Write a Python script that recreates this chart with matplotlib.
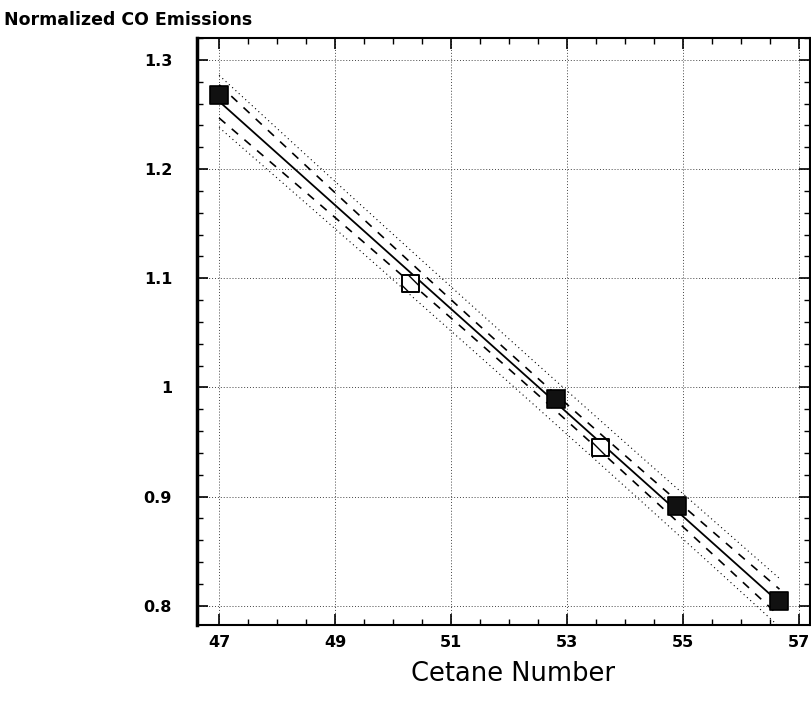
"""
Normalized CO emissions vs cetane number with a linear fit,
95% confidence band (dashed) and prediction band (dotted).
"""

import matplotlib
matplotlib.use("Agg")
import matplotlib.pyplot as plt
import numpy as np
from matplotlib.ticker import MultipleLocator

cetane = [47.0, 50.31, 52.81, 53.59, 54.9, 56.67]
co_norm = [1.268, 1.095, 0.989, 0.945, 0.891, 0.804]
filled = [True, False, True, False, True, True]

x_ticks = [47, 49, 51, 53, 55, 57]
y_ticks = [0.8, 0.9, 1.0, 1.1, 1.2, 1.3]
y_tick_labels = ["0.8", "0.9", "1", "1.1", "1.2", "1.3"]

T_975_DF4 = 2.776  # student t, 95 % two-sided, n - 2 = 4

plt.rcParams["font.family"] = ["DejaVu Sans"]


def fit_bands(x, y, xs):
    x = np.asarray(x)
    y = np.asarray(y)
    n = len(x)
    slope, icpt = np.polyfit(x, y, 1)
    resid = y - (slope * x + icpt)
    s = np.sqrt(np.sum(resid ** 2) / (n - 2))
    sxx = np.sum((x - x.mean()) ** 2)
    yfit = slope * xs + icpt
    lev = 1.0 / n + (xs - x.mean()) ** 2 / sxx
    ci = T_975_DF4 * s * np.sqrt(lev)
    pi = T_975_DF4 * s * np.sqrt(1.0 + lev)
    return yfit, ci, pi


fig = plt.figure(figsize=(8.11, 7.06), dpi=100)
ax = fig.add_axes([0.243, 0.115, 0.756, 0.831])

xs = np.linspace(min(cetane), max(cetane), 200)
yfit, ci, pi = fit_bands(cetane, co_norm, xs)

ax.plot(xs, yfit, color="black", lw=1.3, zorder=3)
ax.plot(xs, yfit + ci, color="black", lw=1.2, ls=(0, (5, 5)), zorder=3)
ax.plot(xs, yfit - ci, color="black", lw=1.2, ls=(0, (5, 5)), zorder=3)
ax.plot(xs, yfit + pi, color="black", lw=0.8, ls=(0, (1, 3)), zorder=3)
ax.plot(xs, yfit - pi, color="black", lw=0.8, ls=(0, (1, 3)), zorder=3)

for xv, yv, full in zip(cetane, co_norm, filled):
    if full:
        ax.scatter(xv, yv, marker="s", s=150, facecolor="#111111",
                   edgecolor="black", linewidth=1.2, zorder=5)
    else:
        ax.scatter(xv, yv, marker="s", s=150, facecolor="white",
                   edgecolor="black", linewidth=1.4, hatch="\\\\", zorder=5)

ax.set_xlim(46.62, 57.2)
ax.set_ylim(0.7826, 1.32)
ax.set_xticks(x_ticks)
ax.set_xticklabels([str(t) for t in x_ticks])
ax.set_yticks(y_ticks)
ax.set_yticklabels(y_tick_labels)
ax.xaxis.set_minor_locator(MultipleLocator(0.5))
ax.yaxis.set_minor_locator(MultipleLocator(0.02))

ax.tick_params(which="both", direction="in", top=True, right=True,
               color="black")
ax.tick_params(which="major", length=8, width=1.2, labelsize=11.5)
ax.tick_params(axis="y", which="major", pad=18)
ax.tick_params(axis="x", which="major", pad=7)
ax.tick_params(which="minor", length=4, width=1.0)
for lbl in ax.get_xticklabels() + ax.get_yticklabels():
    lbl.set_fontweight("bold")

ax.grid(True, which="major", color="#444444", lw=0.7, ls=(0, (1, 2)))
for side in ax.spines.values():
    side.set_linewidth(1.5)
ax.spines["left"].set_linewidth(2.5)

ax.set_xlabel("Cetane Number", fontsize=18.5)
ax.xaxis.set_label_coords(0.515, -0.062, transform=ax.transAxes)
ax.xaxis.label.set_va("top")
fig.text(0.005, 0.972, "Normalized CO Emissions", fontsize=12.5,
         fontweight="bold", ha="left", va="center")

fig.savefig("out.png", dpi=100)
